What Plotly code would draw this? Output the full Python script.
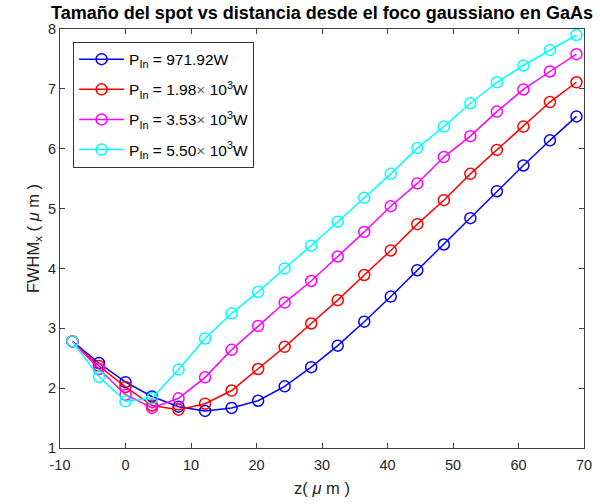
import plotly.graph_objects as go

# Distance from the Gaussian focus (µm)
z_um = [-8.1, -4.05, 0.0, 4.05, 8.1, 12.15, 16.2, 20.25, 24.3, 28.35,
        32.4, 36.45, 40.5, 44.55, 48.6, 52.65, 56.7, 60.75, 64.8, 68.85]

# Spot FWHM (µm) for each input power
fwhm_p1 = [2.78, 2.42, 2.10, 1.86, 1.69, 1.62, 1.67, 1.79, 2.03, 2.35,
           2.71, 3.11, 3.53, 3.97, 4.40, 4.84, 5.29, 5.72, 6.14, 6.54]
fwhm_p2 = [2.78, 2.37, 2.02, 1.71, 1.64, 1.74, 1.96, 2.32, 2.69, 3.08,
           3.47, 3.89, 4.30, 4.74, 5.14, 5.58, 5.98, 6.37, 6.78, 7.11]
fwhm_p3 = [2.78, 2.32, 1.89, 1.67, 1.83, 2.18, 2.64, 3.04, 3.43, 3.79,
           4.20, 4.61, 5.04, 5.42, 5.86, 6.21, 6.62, 6.99, 7.29, 7.58]
fwhm_p4 = [2.78, 2.19, 1.78, 1.83, 2.31, 2.83, 3.25, 3.61, 4.00, 4.38,
           4.78, 5.18, 5.58, 6.01, 6.37, 6.76, 7.11, 7.39, 7.65, 7.90]

series = [fwhm_p1, fwhm_p2, fwhm_p3, fwhm_p4]
labels = [
    "P<sub>In</sub> = 971.92W",
    "P<sub>In</sub> = 1.98<span style='color:#666'>×</span> 10<sup>3</sup>W",
    "P<sub>In</sub> = 3.53<span style='color:#666'>×</span> 10<sup>3</sup>W",
    "P<sub>In</sub> = 5.50<span style='color:#666'>×</span> 10<sup>3</sup>W",
]
colors = ["#0000ff", "#ff0000", "#ff00ff", "#00ffff"]

x_ticks = [-10, 0, 10, 20, 30, 40, 50, 60, 70]
x_tick_text = ["-10", "0", "10", "20", "30", "40", "50", "60", "70"]
y_ticks = [1, 2, 3, 4, 5, 6, 7, 8]

FONT = "Liberation Sans, Arial, sans-serif"
AXIS_COLOR = "#404040"

fig = go.Figure()
for i, (ys, name, col) in enumerate(zip(series, labels, colors)):
    fig.add_trace(go.Scatter(
        x=z_um, y=ys, name=name, mode="lines+markers",
        legendgroup=f"g{i}",
        line=dict(color=col, width=1.5),
        marker=dict(symbol="circle-open", size=11, color=col,
                    line=dict(color=col, width=1.5)),
    ))

axis_common = dict(
    showgrid=False, zeroline=False, showline=True, mirror="allticks",
    linecolor=AXIS_COLOR, linewidth=1, ticks="inside", ticklen=5,
    tickcolor=AXIS_COLOR, ticklabeloverflow="allow",
    tickfont=dict(family=FONT, size=14.5, color="#262626"),
)

fig.update_layout(
    width=600, height=504,
    margin=dict(l=60, r=8, t=29, b=56),
    paper_bgcolor="white", plot_bgcolor="white",
    font=dict(family=FONT, size=14, color="#262626"),
    title=dict(
        text="<b>Tamaño del spot vs distancia desde el foco gaussiano en GaAs</b>",
        xref="paper", x=0.5, xanchor="center", y=0.975, yanchor="middle",
        font=dict(family=FONT, size=18, color="black"),
    ),
    xaxis=dict(range=[-10, 70], tickvals=x_ticks, ticktext=x_tick_text,
               ticklabelstandoff=4,
               title=dict(text="z( <i>μ</i> m )", standoff=10,
                          font=dict(family=FONT, size=16.5)),
               **axis_common),
    yaxis=dict(range=[1, 8], tickvals=y_ticks,
               title=dict(text="FWHM<sub>x</sub> ( <i>μ</i> m )", standoff=4,
                          font=dict(family=FONT, size=16.5)),
               **axis_common),
    legend=dict(
        x=0.025, y=0.97, xanchor="left", yanchor="top",
        bgcolor="white", bordercolor="#333333", borderwidth=1,
        font=dict(family=FONT, size=15.5, color="black"),
        tracegroupgap=7, itemwidth=45,
    ),
    showlegend=True,
)

fig.write_html("out.html")
